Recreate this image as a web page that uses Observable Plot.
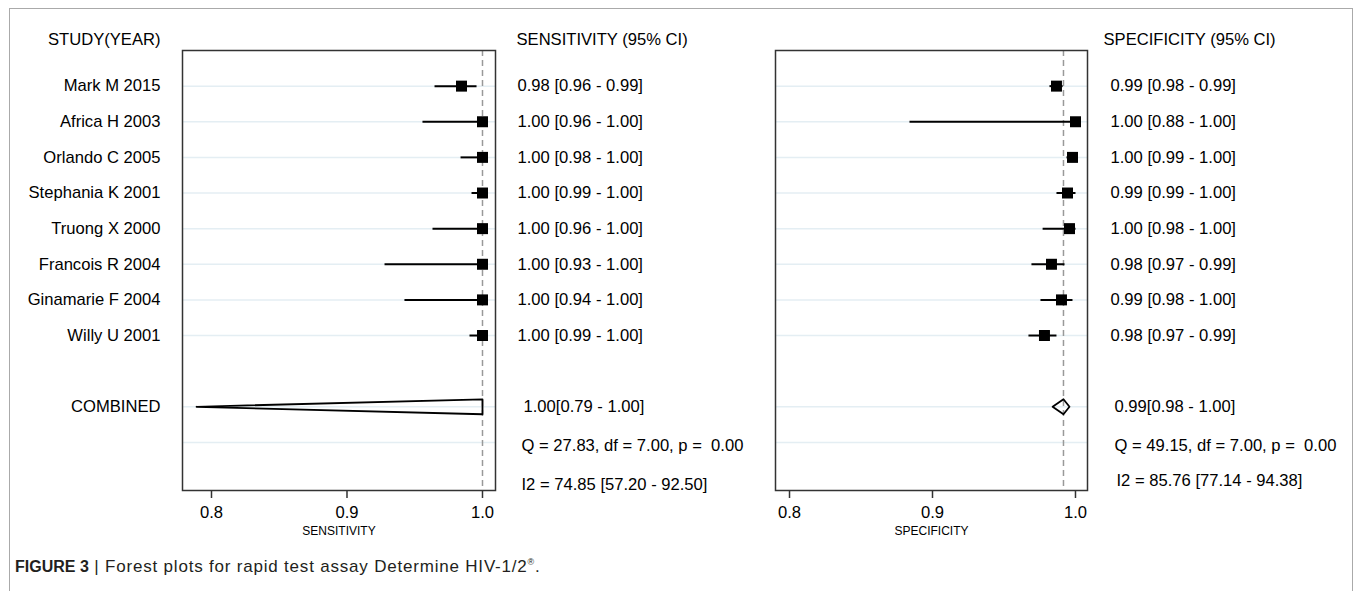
<!DOCTYPE html>
<html>
<head>
<meta charset="utf-8">
<script src="https://cdn.jsdelivr.net/npm/d3@7"></script>
<script src="https://cdn.jsdelivr.net/npm/@observablehq/plot@0.6"></script>
<style>
  html, body { margin: 0; padding: 0; background: #fff; }
  #wrap { position: relative; width: 1358px; height: 591px; overflow: hidden; font-family: "Liberation Sans", Arial, sans-serif; }
  #frame { position: absolute; left: 9px; top: 8px; width: 1344px; height: 620px; border: 1.5px solid #aaa; border-bottom: none; box-sizing: border-box; }
  .panel { position: absolute; top: 0; }
  #caption { position: absolute; left: 15px; top: 552px; font-size: 16px; line-height: 20px; color: #231f20; white-space: nowrap; }
  #caption b { font-weight: bold; }
  #caption span { font-size: 17px; letter-spacing: 0.8px; }
</style>
</head>
<body>
<div id="wrap">
  <div id="frame"></div>
  <div id="left" class="panel" style="left:0px"></div>
  <div id="right" class="panel" style="left:760px"></div>
  <div id="caption"><b>FIGURE 3</b><span> | Forest plots for rapid test assay Determine HIV-1/2<sup style="font-size:9px">®</sup>.</span></div>
</div>
<script>
// ---------- data ----------
const studies = ["Mark M 2015", "Africa H 2003", "Orlando C 2005", "Stephania K 2001",
                 "Truong X 2000", "Francois R 2004", "Ginamarie F 2004", "Willy U 2001"];

const sensEst = [0.9845, 1.0, 1.0, 1.0, 1.0, 1.0, 1.0, 1.0];
const sensLo  = [0.9646, 0.9557, 0.9838, 0.9919, 0.9631, 0.9277, 0.9424, 0.9904];
const sensHi  = [0.9956, 1.0, 1.0, 1.0, 1.0, 1.0, 1.0, 1.0];
const sensLabels = ["0.98 [0.96 - 0.99]", "1.00 [0.96 - 1.00]", "1.00 [0.98 - 1.00]", "1.00 [0.99 - 1.00]",
                    "1.00 [0.96 - 1.00]", "1.00 [0.93 - 1.00]", "1.00 [0.94 - 1.00]", "1.00 [0.99 - 1.00]"];
const sensCombined = {est: 1.0, lo: 0.789, hi: 1.0, label: "1.00[0.79 - 1.00]"};
const sensStats = ["Q = 27.83, df = 7.00, p =  0.00", "I2 = 74.85 [57.20 - 92.50]"];

const specEst = [0.9867, 1.0, 0.9979, 0.9944, 0.9958, 0.9832, 0.9902, 0.9783];
const specLo  = [0.9818, 0.8839, 0.9937, 0.9867, 0.9770, 0.9692, 0.9755, 0.9671];
const specHi  = [0.9910, 1.0, 1.0, 1.0, 1.0, 0.9923, 0.9979, 0.9867];
const specLabels = ["0.99 [0.98 - 0.99]", "1.00 [0.88 - 1.00]", "1.00 [0.99 - 1.00]", "0.99 [0.99 - 1.00]",
                    "1.00 [0.98 - 1.00]", "0.98 [0.97 - 0.99]", "0.99 [0.98 - 1.00]", "0.98 [0.97 - 0.99]"];
const specCombined = {est: 0.9916, lo: 0.984, hi: 0.9958, label: "0.99[0.98 - 1.00]"};
const specStats = ["Q = 49.15, df = 7.00, p =  0.00", "I2 = 85.76 [77.14 - 94.38]"];

const xTicks = [0.8, 0.9, 1.0];
const combinedRow = 9;
const gridRows = [0, 1, 2, 3, 4, 5, 6, 7, 9, 10];

// ---------- drawing ----------
function panel(o) {
  const rows = studies.map((s, i) => ({study: s, row: i, est: o.est[i], lo: o.lo[i], hi: o.hi[i], label: o.labels[i]}));
  const c = o.combined;
  const h = 0.21; // diamond half-height in row units (style)
  const diamond = [
    {x: c.lo, y: combinedRow}, {x: c.est, y: combinedRow - h},
    {x: c.hi, y: combinedRow}, {x: c.est, y: combinedRow + h}, {x: c.lo, y: combinedRow}
  ];
  const marks = [
    Plot.ruleY(gridRows, {stroke: "#e4eef3", strokeWidth: 1.5}),
    Plot.ruleX([c.est], {stroke: "#999", strokeWidth: 1.5, strokeDasharray: "6,4"}),
    Plot.link(rows, {x1: "lo", x2: "hi", y1: "row", y2: "row", stroke: "#000", strokeWidth: 2}),
    Plot.dot(rows, {x: "est", y: "row", symbol: "square", r: 6.2, fill: "#000", stroke: null}),
    Plot.line(diamond, {x: "x", y: "y", stroke: "#000", strokeWidth: 1.8, curve: "linear"}),
    Plot.frame({stroke: "#333", strokeWidth: 1.5}),
    Plot.axisX({ticks: xTicks, tickFormat: d3.format(".1f"), tickSize: 8, tickPadding: 8, stroke: "#333", strokeWidth: 1.5, fill: "#000", label: null}),
    Plot.text([o.axisLabel], {frameAnchor: "bottom", text: d => d, lineAnchor: "bottom", dy: 44, fontSize: 12, fill: "#000"}),
    Plot.text([o.header], {frameAnchor: "top-right", text: d => d, textAnchor: "start", lineAnchor: "middle", dx: o.headerDx, dy: -11, fill: "#000"}),
    Plot.text(rows, {frameAnchor: "right", y: "row", text: "label", textAnchor: "start", dx: o.labelDx, fill: "#000"}),
    Plot.text([c.label], {frameAnchor: "right", y: [combinedRow], text: d => d, textAnchor: "start", dx: o.comboDx, fill: "#000"}),
    Plot.text([o.stats[0]], {frameAnchor: "right", y: [10], text: d => d, textAnchor: "start", dx: o.statDx, dy: 3, fill: "#000"}),
    Plot.text([o.stats[1]], {frameAnchor: "right", y: [10], text: d => d, textAnchor: "start", dx: o.statDx + o.i2Dx, dy: o.i2Dy, fill: "#000"})
  ];
  if (o.showStudies) {
    marks.push(
      Plot.text(rows, {frameAnchor: "left", y: "row", text: "study", textAnchor: "end", dx: -22, fill: "#000"}),
      Plot.text(["COMBINED"], {frameAnchor: "left", y: [combinedRow], text: d => d, textAnchor: "end", dx: -22, fill: "#000"}),
      Plot.text(["STUDY(YEAR)"], {frameAnchor: "top-left", text: d => d, textAnchor: "end", lineAnchor: "middle", dx: -22, dy: -11, fill: "#000"})
    );
  }
  return Plot.plot({
    width: o.width, height: 591,
    marginLeft: o.ml, marginRight: o.mr, marginTop: 50, marginBottom: 101,
    style: {fontFamily: "'Liberation Sans', Arial, sans-serif", fontSize: "16.6px", color: "#000", background: "transparent", overflow: "visible"},
    x: {domain: o.domain},
    y: {domain: [11.35, -1], axis: null},
    marks
  });
}

document.getElementById("left").appendChild(panel({
  est: sensEst, lo: sensLo, hi: sensHi, labels: sensLabels, combined: sensCombined, stats: sensStats,
  header: "SENSITIVITY (95% CI)", axisLabel: "SENSITIVITY",
  domain: [0.7786, 1.0096], width: 760, ml: 182, mr: 265, showStudies: true,
  headerDx: 21, labelDx: 22, comboDx: 28, statDx: 26, i2Dx: 0, i2Dy: 42
}));
document.getElementById("right").appendChild(panel({
  est: specEst, lo: specLo, hi: specHi, labels: specLabels, combined: specCombined, stats: specStats,
  header: "SPECIFICITY (95% CI)", axisLabel: "SPECIFICITY",
  domain: [0.7902, 1.0084], width: 598, ml: 15, mr: 271, showStudies: false,
  headerDx: 16, labelDx: 23, comboDx: 27, statDx: 27, i2Dx: 2, i2Dy: 38
}));
</script>
</body>
</html>
